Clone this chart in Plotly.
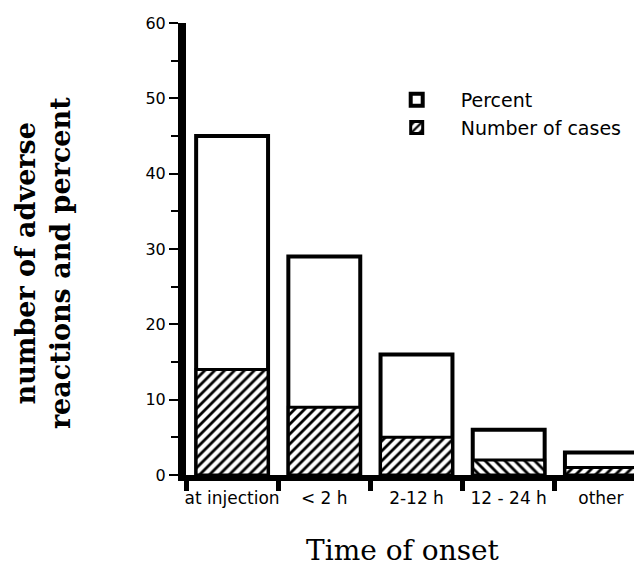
import plotly.graph_objects as go

categories = ["at injection", "< 2 h", "2-12 h", "12 - 24 h", "other"]
percent = [45, 29, 16, 6, 3]
cases = [14, 9, 5, 2, 1]
hatch = ["/", "/", "/", "\\", "/"]
y_ticks = [0, 10, 20, 30, 40, 50, 60]

xpos = list(range(len(categories)))

fig = go.Figure()
fig.add_trace(go.Bar(
    x=xpos, y=percent, name="Percent", width=0.78,
    marker=dict(color="white", line=dict(color="black", width=4)),
))
fig.add_trace(go.Bar(
    x=xpos, y=cases, name="Number of cases", width=0.78,
    marker=dict(color="white", line=dict(color="black", width=3),
                pattern=dict(shape=hatch, fgcolor="black", bgcolor="white",
                             size=7, solidity=0.4, fillmode="replace")),
))

fig.update_layout(
    width=642, height=567,
    margin=dict(l=178, r=3, t=15, b=100),
    paper_bgcolor="white", plot_bgcolor="white",
    barmode="overlay",
    showlegend=True,
    legend=dict(x=0.405, y=0.872, xanchor="left", yanchor="top",
                font=dict(family="DejaVu Sans", size=19, color="black"),
                bgcolor="rgba(0,0,0,0)", itemwidth=78, tracegroupgap=0),
    font=dict(family="DejaVu Sans", color="black"),
)
fig.update_xaxes(
    range=[-0.5, 4.5], tickvals=xpos, ticktext=categories,
    ticks="", ticklabelstandoff=3,
    tickfont=dict(family="DejaVu Sans", size=17, color="black"),
    showline=True, linecolor="black", linewidth=6,
    showgrid=False, zeroline=False,
    minor=dict(tick0=0.5, dtick=1, ticks="outside", ticklen=10, tickwidth=5,
               tickcolor="black", showgrid=False),
)
fig.update_yaxes(
    range=[0, 60], tickvals=y_ticks,
    ticks="outside", ticklen=9, tickwidth=2, tickcolor="black",
    tickfont=dict(family="DejaVu Sans", size=16, color="black"),
    showline=True, linecolor="black", linewidth=8,
    showgrid=False, zeroline=False,
    minor=dict(dtick=5, ticks="outside", ticklen=7, tickwidth=2,
               tickcolor="black", showgrid=False),
)
fig.add_annotation(
    text="number of adverse<br>reactions and percent",
    xref="paper", yref="paper", x=-0.31, y=0.469,
    xanchor="center", yanchor="middle", textangle=-90, showarrow=False,
    font=dict(family="DejaVu Serif", size=27, color="black", weight="bold"),
)
fig.add_annotation(
    text="Time of onset",
    xref="paper", yref="paper", x=0.47, y=-0.168,
    xanchor="center", yanchor="middle", showarrow=False,
    font=dict(family="DejaVu Serif", size=28, color="black"),
)

fig.write_html("out.html")
